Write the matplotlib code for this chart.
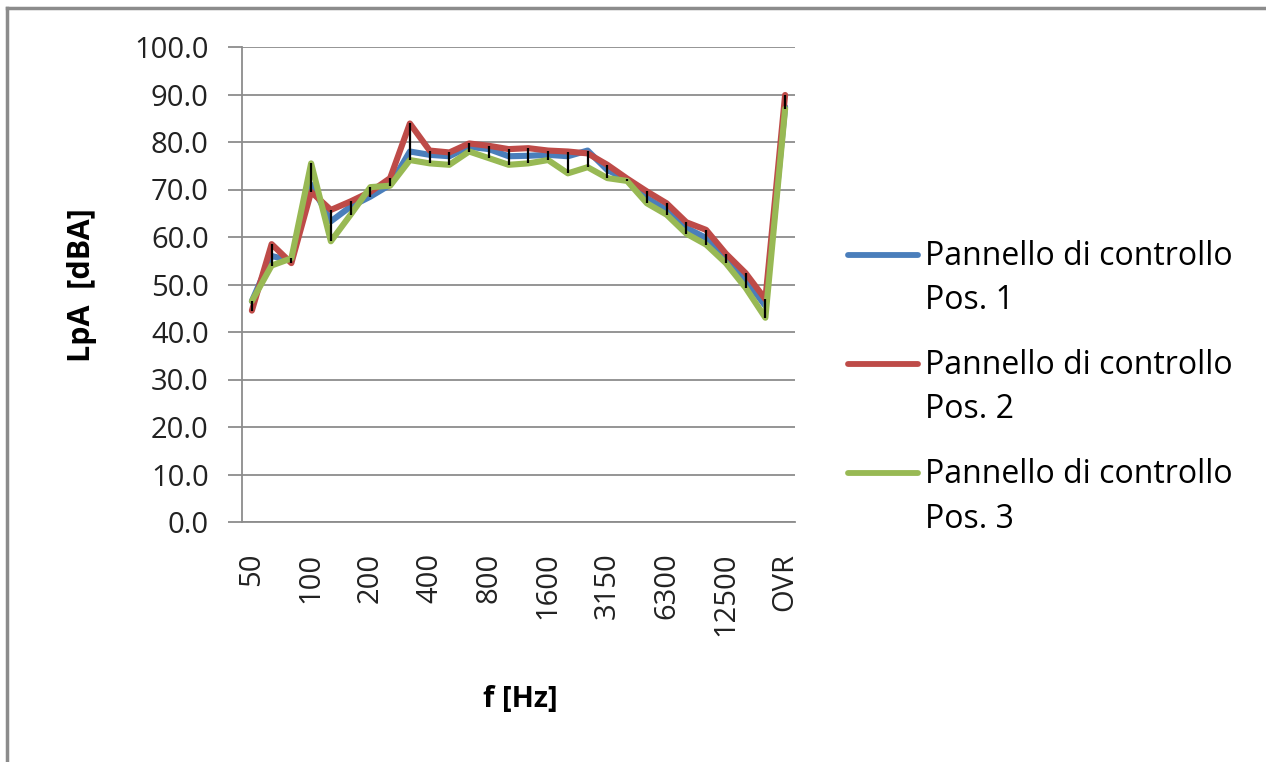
import numpy as np
import matplotlib.pyplot as plt
from matplotlib.lines import Line2D

# one-third octave bands + overall
bands = ["50", "63", "80", "100", "125", "160", "200", "250", "315", "400",
         "500", "630", "800", "1000", "1250", "1600", "2000", "2500", "3150",
         "4000", "5000", "6300", "8000", "10000", "12500", "16000", "20000", "OVR"]

pos1 = [46.5, 56.0, 55.0, 71.0, 63.3, 66.4, 68.5, 71.0, 78.0, 77.3,
        77.0, 79.0, 78.5, 77.0, 77.1, 77.3, 77.0, 78.2, 74.1, 72.1,
        68.2, 65.7, 61.9, 59.8, 55.6, 51.0, 45.5, 87.4]
pos2 = [44.5, 58.5, 54.5, 69.5, 65.7, 67.5, 69.5, 72.4, 83.9, 78.2,
        77.8, 79.7, 79.2, 78.5, 78.7, 78.2, 78.0, 77.6, 75.2, 72.3,
        69.6, 67.1, 63.1, 61.5, 56.5, 52.4, 46.9, 89.9]
pos3 = [46.5, 54.0, 55.5, 75.5, 59.1, 64.7, 70.5, 70.8, 76.2, 75.5,
        75.2, 78.0, 76.6, 75.2, 75.5, 76.2, 73.4, 74.7, 72.4, 71.8,
        67.1, 64.7, 60.7, 58.4, 54.5, 49.3, 43.0, 87.0]

labels = ["Pannello di controllo\nPos. 1", "Pannello di controllo\nPos. 2",
          "Pannello di controllo\nPos. 3"]
colors = ["#4a7ebb", "#be4b48", "#98b954"]

plt.rcParams['font.family'] = ['Open Sans', 'DejaVu Sans']

fig = plt.figure(figsize=(12.66, 7.62), dpi=100)
ax = fig.add_axes([242/1266, 1 - 522/762, (795 - 242)/1266, (522 - 47)/762])

x = np.arange(len(bands))
data = np.array([pos1, pos2, pos3])

# high-low lines between the series
ax.vlines(x, data.min(axis=0), data.max(axis=0), color="black", lw=1.6, zorder=4)

for vals, lab, col in zip(data, labels, colors):
    ax.plot(x, vals, color=col, lw=4.4, label=lab, solid_capstyle="round", zorder=3)

ax.set_xlim(-0.5, len(bands) - 0.5)
ax.set_ylim(0, 100)
ax.set_yticks(np.arange(0, 101, 10))
ax.set_yticklabels([f"{v:.1f}" for v in np.arange(0, 101, 10)], fontsize=21, color="#222222")
ax.set_xticks(x[::3])
ax.set_xticklabels(bands[::3], rotation=90, fontsize=21, color="#222222")
ax.tick_params(axis="y", length=10, width=1.3, color="#8c8c8c", pad=14)
ax.tick_params(axis="x", length=0, pad=22)

ax.grid(axis="y", color="#8c8c8c", lw=1.3)
ax.set_axisbelow(True)
for s in ["top", "right"]:
    ax.spines[s].set_visible(False)
for s in ["left", "bottom"]:
    ax.spines[s].set_color("#8c8c8c")
    ax.spines[s].set_linewidth(1.3)

fig.text(82/1266, 1 - 285/762, "LpA  [dBA]", rotation=90, fontsize=22, fontweight="bold",
         ha="center", va="center")
fig.text(520/1266, 1 - 700/762, "f [Hz]", fontsize=21, fontweight="bold",
         ha="center", va="center")

leg = ax.legend(loc="upper left", bbox_to_anchor=(848/1266, 1 - 240/762),
                bbox_transform=fig.transFigure, frameon=False, fontsize=23,
                handlelength=2.2, handletextpad=0.2, labelspacing=1.0,
                borderpad=0, borderaxespad=0)
for t in leg.get_texts():
    t.set_linespacing(1.45)
# put the legend keys beside the first text line, like the original
for ln in leg.get_lines():
    ln.set_linewidth(4.2)
    ln.set_ydata(np.asarray(ln.get_ydata()) + 18)

# chart area border
fig.add_artist(Line2D([7/1266, 7/1266], [0, 1 - 8/762], transform=fig.transFigure,
                      color="#8c8c8c", lw=2.5))
fig.add_artist(Line2D([7/1266, 1], [1 - 8/762, 1 - 8/762], transform=fig.transFigure,
                      color="#8c8c8c", lw=2.5))

fig.savefig("out.png", dpi=100)
